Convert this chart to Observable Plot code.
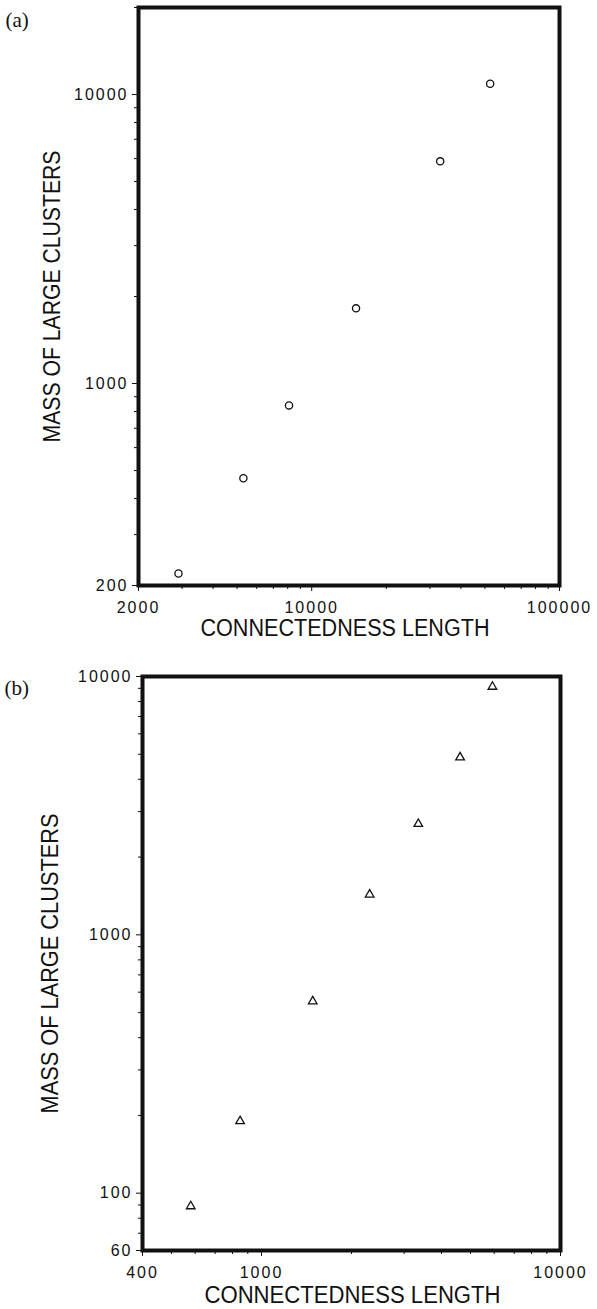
<!DOCTYPE html>
<html>
<head>
<meta charset="utf-8">
<script src="https://cdn.jsdelivr.net/npm/d3@7"></script>
<script src="https://cdn.jsdelivr.net/npm/@observablehq/plot@0.6"></script>
<style>
  html, body { margin: 0; padding: 0; background: #fff; }
  #chart svg { display: block; }
</style>
</head>
<body>
<div id="chart"></div>
<script>
// ---- Data ----
const lengthA = [2900, 5300, 8100, 15100, 33000, 52500];
const massA   = [220, 470, 840, 1820, 5870, 10900];

const lengthB = [580, 848, 1484, 2300, 3346, 4615, 5920];
const massB   = [89, 190, 553, 1432, 2687, 4863, 9127];

// ---- Tick labels ----
const xTicksA = [2000, 10000, 100000];
const xMinorA = [3000, 4000, 5000, 6000, 7000, 8000, 9000, 20000, 30000, 40000, 50000, 60000, 70000, 80000, 90000];
const yTicksA = [200, 1000, 10000];
const yMinorA = [300, 400, 500, 600, 700, 800, 900, 2000, 3000, 4000, 5000, 6000, 7000, 8000, 9000, 20000];

const xTicksB = [400, 1000, 10000];
const xMinorB = [500, 600, 700, 800, 900, 2000, 3000, 4000, 5000, 6000, 7000, 8000, 9000];
const yTicksB = [60, 100, 1000, 10000];
const yMinorB = [70, 80, 90, 200, 300, 400, 500, 600, 700, 800, 900, 2000, 3000, 4000, 5000, 6000, 7000, 8000, 9000];

const xTitle = "CONNECTEDNESS LENGTH";
const yTitle = "MASS OF LARGE CLUSTERS";

const sans = "'Liberation Sans', Arial, Helvetica, sans-serif";
const serif = "'Liberation Serif', 'Times New Roman', serif";

function panel(cfg) {
  const data = cfg.xs.map((x, i) => ({x, y: cfg.ys[i]}));
  const svg = Plot.plot({
    width: 597,
    height: cfg.height,
    marginLeft: cfg.ml,
    marginRight: cfg.mr,
    marginTop: cfg.mt,
    marginBottom: cfg.mb,
    style: {fontFamily: sans, fontSize: "16px", background: "#fff", color: "#111"},
    x: {type: "log", domain: cfg.xDomain},
    y: {type: "log", domain: cfg.yDomain},
    marks: [
      // minor ticks
      Plot.axisX({ticks: cfg.xMinor, tickSize: 4, tickFormat: () => "", label: null}),
      Plot.axisY({ticks: cfg.yMinor, tickSize: 4, tickFormat: () => "", label: null}),
      // major ticks (labels drawn below as text marks so log formatting does not hide any)
      Plot.axisX({ticks: cfg.xTicks, tickSize: 6, tickFormat: () => "", label: null}),
      Plot.axisY({ticks: cfg.yTicks, tickSize: 6, tickFormat: () => "", label: null}),
      Plot.text(cfg.xTicks, {x: d => d, frameAnchor: "bottom", dy: 16, textAnchor: "middle", lineAnchor: "top", text: d => String(d), fontSize: 16, fill: "#111", className: "ticklabel"}),
      Plot.text(cfg.yTicks, {y: d => d, frameAnchor: "left", dx: -10, textAnchor: "end", lineAnchor: "middle", text: d => String(d), fontSize: 16, fill: "#111", className: "ticklabel"}),
      Plot.frame({stroke: "#111", strokeWidth: 4}),
      Plot.dot(data, {x: "x", y: "y", symbol: cfg.symbol, r: cfg.r, stroke: "#111", strokeWidth: 1.3, fill: "none"}),
      Plot.text([xTitle], {frameAnchor: "bottom", dx: cfg.xtDx, dy: cfg.xtDy, textAnchor: "middle", lineAnchor: "middle", fontSize: 23, fill: "#111", className: "xtitle"}),
      Plot.text([yTitle], {frameAnchor: "left", dx: cfg.ytDx, rotate: -90, textAnchor: "middle", lineAnchor: "middle", fontSize: 23, fill: "#111", className: "ytitle"}),
      Plot.text([cfg.tag], {frameAnchor: "top-left", dx: cfg.tagDx, dy: cfg.tagDy, textAnchor: "start", lineAnchor: "middle", fontFamily: serif, fontSize: 21, fill: "#111"})
    ]
  });
  const s = d3.select(svg);
  s.selectAll(".ticklabel text").attr("letter-spacing", "2px");
  s.selectAll(".xtitle text").attr("textLength", cfg.xtLen).attr("lengthAdjust", "spacingAndGlyphs");
  s.selectAll(".ytitle text").attr("textLength", cfg.ytLen).attr("lengthAdjust", "spacingAndGlyphs");
  return svg;
}

const chart = document.getElementById("chart");

chart.appendChild(panel({
  height: 645, ml: 138, mr: 38, mt: 7, mb: 60,
  xs: lengthA, ys: massA,
  xDomain: [2000, 100000], yDomain: [200, 20000],
  xTicks: xTicksA, xMinor: xMinorA, yTicks: yTicksA, yMinor: yMinorA,
  symbol: "circle", r: 3.6,
  xtDx: -4, xtDy: 43, xtLen: 289,
  ytDx: -86, ytLen: 292,
  tag: "(a)", tagDx: -133, tagDy: 13
}));

chart.appendChild(panel({
  height: 664, ml: 142, mr: 37, mt: 31, mb: 59,
  xs: lengthB, ys: massB,
  xDomain: [400, 10000], yDomain: [60, 10000],
  xTicks: xTicksB, xMinor: xMinorB, yTicks: yTicksB, yMinor: yMinorB,
  symbol: "triangle", r: 3.2,
  xtDx: 1, xtDy: 45, xtLen: 296,
  ytDx: -92, ytLen: 300,
  tag: "(b)", tagDx: -138, tagDy: 12
}));
</script>
</body>
</html>
